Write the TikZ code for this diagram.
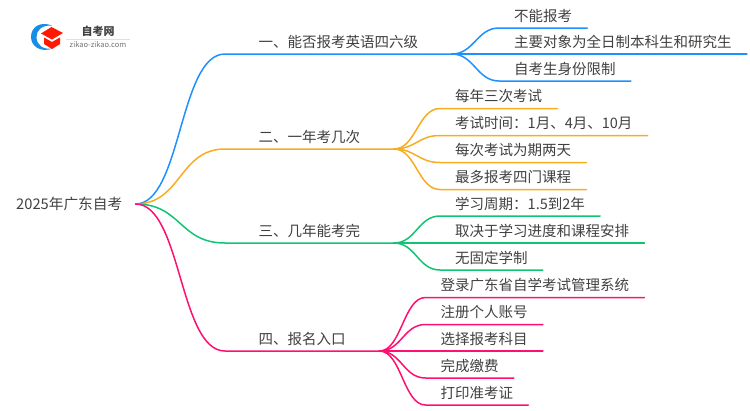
\documentclass[tikz,border=0pt]{standalone}
\usepackage{fontspec}
\setmainfont{Noto Sans CJK SC}
\definecolor{blueline}{HTML}{1E90FF}
\definecolor{orangeline}{HTML}{F9AC1E}
\definecolor{greenline}{HTML}{0FC574}
\definecolor{pinkline}{HTML}{FF1070}
\definecolor{textcol}{HTML}{404040}
\tikzset{
  rootbranch/.style={out=0,in=180,distance=46pt},
  branch/.style={out=0,in=180,distance=22pt},
  topic/.style={anchor=south west,inner xsep=33.5pt,inner ysep=1pt,text height=11pt,text depth=5.5pt,font=\fontsize{14.5pt}{16pt}\selectfont,text=textcol},
  leaf/.style={anchor=south west,inner xsep=15pt,inner ysep=1pt,text height=11pt,text depth=5.5pt,font=\fontsize{14.5pt}{16pt}\selectfont,text=textcol},
  edge/.style={line width=1.5pt,line cap=round}
}
\begin{document}
\begin{tikzpicture}[x=1pt,y=1pt,yscale=-1,xscale=1]
\useasboundingbox (0,0) rectangle (750,410);

% Logo
\fill[blueline!80!teal] (52,25.5) .. controls (40,21) and (31,27) .. (31,37) .. controls (31,46) and (40,53) .. (53,48.5) .. controls (43,50) and (36.5,45) .. (36.5,37) .. controls (36.5,30) and (42,25) .. (52,25.5) -- cycle;
\fill[red!80!orange] (41,33.5) -- (51.5,27) -- (63,33) -- (52,39.5) -- cycle;
\fill[red!80!orange] (44,37.5) -- (52,42) -- (60,37.5) -- (60,44) -- (52,49) -- (44,44) -- cycle;
\node (logotext) at (98,31) [inner sep=0pt,font=\fontsize{11pt}{12pt}\selectfont\bfseries,text=textcol] {自考网};
\node (logourl) at (98,45) [inner sep=0pt,font=\fontsize{7.5pt}{9pt}\selectfont,text=black!55] {zikao-zikao.com};
\draw[black!12,line width=0.5pt] (66,39) -- (130,39);

% Root
\node (root) at (3,204) [anchor=west,inner xsep=13pt,inner ysep=0pt,font=\fontsize{14.7pt}{16pt}\selectfont,text=textcol] {2025年广东自考};

% Topics
\node (topicA) at (225,54) [topic] {一、能否报考英语四六级};
\node (topicB) at (225,149) [topic] {二、一年考几次};
\node (topicC) at (225,243) [topic] {三、几年能考完};
\node (topicD) at (225,351) [topic] {四、报名入口};

% Leaves
\node (leafA1) at (499,28) [leaf] {不能报考};
\node (leafA2) at (499,54) [leaf] {主要对象为全日制本科生和研究生};
\node (leafA3) at (499,81) [leaf] {自考生身份限制};
\node (leafB1) at (440,108.5) [leaf] {每年三次考试};
\node (leafB2) at (440,135.5) [leaf] {考试时间：1月、4月、10月};
\node (leafB3) at (440,162.5) [leaf] {每次考试为期两天};
\node (leafB4) at (440,189.5) [leaf] {最多报考四门课程};
\node (leafC1) at (440,216) [leaf] {学习周期：1.5到2年};
\node (leafC2) at (440,243) [leaf] {取决于学习进度和课程安排};
\node (leafC3) at (440,270) [leaf] {无固定学制};
\node (leafD1) at (425.5,297.5) [leaf] {登录广东省自学考试管理系统};
\node (leafD2) at (425.5,324.5) [leaf] {注册个人账号};
\node (leafD3) at (425.5,351) [leaf] {选择报考科目};
\node (leafD4) at (425.5,378) [leaf] {完成缴费};
\node (leafD5) at (425.5,405) [leaf] {打印准考证};

% Blue
\draw[edge,blueline] (root.east) to[rootbranch] (topicA.south west) -- (topicA.south east);
\draw[edge,blueline] (topicA.south east) to[branch] (leafA1.south west) -- (leafA1.south east);
\draw[edge,blueline] (topicA.south east) to[branch] (leafA2.south west) -- (leafA2.south east);
\draw[edge,blueline] (topicA.south east) to[branch] (leafA3.south west) -- (leafA3.south east);
% Orange
\draw[edge,orangeline] (root.east) to[rootbranch] (topicB.south west) -- (topicB.south east);
\draw[edge,orangeline] (topicB.south east) to[branch] (leafB1.south west) -- (leafB1.south east);
\draw[edge,orangeline] (topicB.south east) to[branch] (leafB2.south west) -- (leafB2.south east);
\draw[edge,orangeline] (topicB.south east) to[branch] (leafB3.south west) -- (leafB3.south east);
\draw[edge,orangeline] (topicB.south east) to[branch] (leafB4.south west) -- (leafB4.south east);
% Green
\draw[edge,greenline] (root.east) to[rootbranch] (topicC.south west) -- (topicC.south east);
\draw[edge,greenline] (topicC.south east) to[branch] (leafC1.south west) -- (leafC1.south east);
\draw[edge,greenline] (topicC.south east) to[branch] (leafC2.south west) -- (leafC2.south east);
\draw[edge,greenline] (topicC.south east) to[branch] (leafC3.south west) -- (leafC3.south east);
% Pink
\draw[edge,pinkline] (root.east) to[rootbranch] (topicD.south west) -- (topicD.south east);
\draw[edge,pinkline] (topicD.south east) to[branch] (leafD1.south west) -- (leafD1.south east);
\draw[edge,pinkline] (topicD.south east) to[branch] (leafD2.south west) -- (leafD2.south east);
\draw[edge,pinkline] (topicD.south east) to[branch] (leafD3.south west) -- (leafD3.south east);
\draw[edge,pinkline] (topicD.south east) to[branch] (leafD4.south west) -- (leafD4.south east);
\draw[edge,pinkline] (topicD.south east) to[branch] (leafD5.south west) -- (leafD5.south east);

\end{tikzpicture}
\end{document}
